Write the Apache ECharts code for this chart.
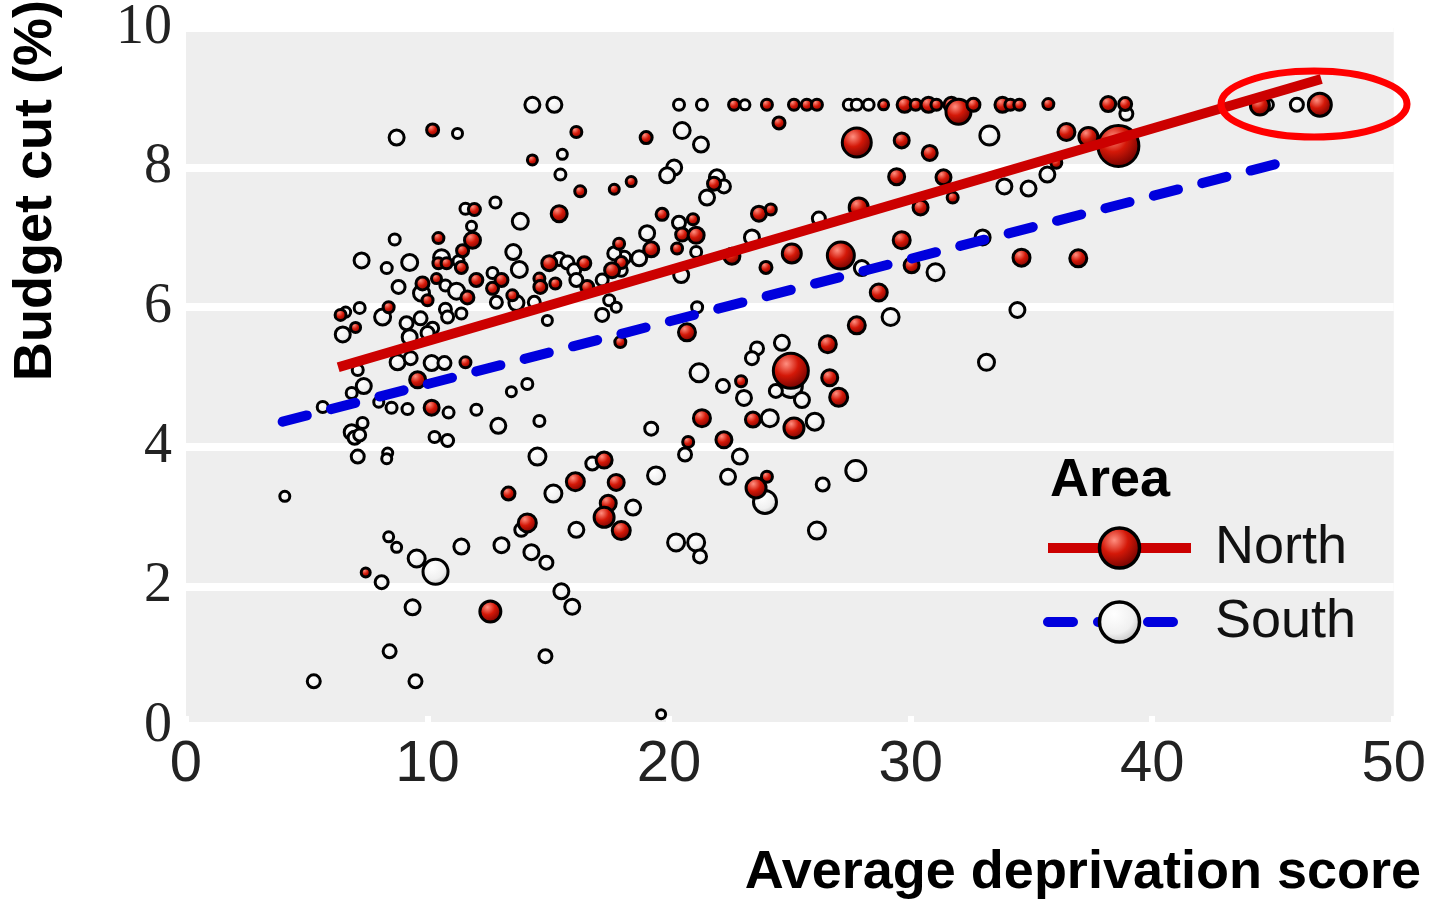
<!DOCTYPE html>
<html>
<head>
<meta charset="utf-8">
<title>Budget cut vs deprivation</title>
<script src="https://cdn.jsdelivr.net/npm/echarts@6/dist/echarts.min.js"></script>
<style>
  html, body { margin: 0; padding: 0; background: #fff; }
  #main { width: 1429px; height: 903px; }
</style>
</head>
<body>
<div id="main"></div>
<script>
// [deprivation score, budget cut %, bubble size]
var northPoints = [
  [22.69,8.90,8],[24.05,8.90,8],[25.17,8.90,8],[25.70,8.90,8],[26.12,8.90,8],[28.88,8.90,7],
  [29.75,8.90,12],[30.21,8.90,8],[30.74,8.90,12],[31.07,8.90,8],[31.69,8.90,12],[31.98,8.80,22],
  [32.60,8.90,10],[33.80,8.90,12],[34.13,8.90,8],[34.50,8.90,8],[35.70,8.91,8],[38.18,8.91,12],
  [38.88,8.91,10],[44.46,8.89,16],[46.94,8.90,20],
  [10.21,8.54,9],[16.16,8.51,8],[14.34,8.11,7],[16.32,7.66,8],[17.73,7.69,7],[18.43,7.80,7],
  [19.05,8.43,9],[24.55,8.64,9],[27.77,8.36,26],[29.63,8.39,12],[30.79,8.21,12],[29.42,7.87,13],
  [31.36,7.86,12],[31.74,7.57,8],[30.41,7.43,12],[27.85,7.43,16],[36.45,8.51,14],[37.36,8.44,16],
  [38.60,8.31,38],[36.03,8.07,8],[34.59,6.71,14],[36.94,6.70,14],[29.63,6.96,14],[30.04,6.60,12],
  [28.68,6.21,14],[27.77,5.74,14],[27.11,6.74,24],[25.08,6.77,16],[24.01,6.57,9],[22.60,6.73,13],
  [23.72,7.34,12],[24.21,7.40,8],[21.86,7.77,10],[19.71,7.33,9],[20.99,7.26,8],[20.54,7.04,10],
  [21.12,7.03,13],[19.26,6.83,12],[17.93,6.91,8],[18.02,6.64,9],[20.33,6.84,8],[20.74,5.64,14],
  [17.98,5.50,8],[26.57,5.47,14],[25.04,5.09,32],[22.98,4.94,8],[26.65,4.99,13],[27.02,4.71,15],
  [21.36,4.41,14],[23.47,4.39,12],[25.17,4.27,17],[20.79,4.07,8],[22.27,4.10,13],[17.31,3.81,13],
  [17.81,3.49,13],[24.05,3.57,8],[23.60,3.41,17],[17.48,3.19,13],[17.31,2.99,17],[18.02,2.80,15],
  [16.12,3.50,15],[13.35,3.33,10],[14.13,2.91,15],[12.60,1.64,18],[7.44,2.20,6],[10.17,4.56,12],
  [9.59,4.96,13],[11.57,5.21,8],[11.94,7.40,9],[11.86,6.96,13],[10.45,6.99,8],[15.45,7.34,13],
  [15.04,6.63,12],[16.49,6.63,10],[14.63,6.41,8],[14.67,6.29,10],[15.29,6.34,8],[16.61,6.29,10],
  [12.02,6.39,10],[13.06,6.39,10],[12.69,6.27,9],[13.51,6.17,8],[10.45,6.63,8],[10.79,6.63,8],
  [11.40,6.57,9],[11.45,6.81,9],[10.37,6.41,7],[9.79,6.34,10],[10.00,6.10,8],[11.65,6.14,10],
  [6.40,5.89,8],[7.02,5.71,7],[8.39,6.00,8],[17.64,6.53,12]
];

var southPoints = [
  [14.34,8.90,12],[15.25,8.90,12],[20.41,8.90,8],[21.36,8.90,8],[23.14,8.90,7],[27.44,8.90,8],
  [27.77,8.90,8],[28.26,8.90,8],[38.93,8.77,10],[44.79,8.90,8],[45.99,8.90,10],
  [8.72,8.43,12],[11.24,8.49,7],[15.58,8.19,7],[15.50,7.90,8],[12.81,7.50,8],[11.57,7.41,8],
  [11.82,7.16,7],[8.64,6.97,8],[13.84,7.23,13],[20.54,8.53,13],[21.32,8.33,12],[20.21,8.00,12],
  [19.92,7.89,12],[21.98,7.86,12],[22.27,7.73,10],[21.57,7.57,12],[20.41,7.21,10],[19.09,7.06,12],
  [18.14,6.71,10],[18.76,6.70,12],[21.12,6.79,8],[20.50,6.46,12],[23.43,7.00,12],[26.20,7.27,10],
  [33.88,7.73,12],[34.88,7.70,12],[35.66,7.90,12],[33.26,8.46,16],[27.98,6.56,12],[31.03,6.50,14],
  [29.17,5.86,14],[32.98,7.00,12],[34.42,5.96,12],[33.14,5.21,13],[21.16,6.00,8],[24.67,5.49,12],
  [23.64,5.41,10],[23.43,5.27,10],[21.24,5.06,15],[22.23,4.87,10],[23.10,4.70,12],[25.04,4.87,20],
  [24.42,4.80,10],[25.50,4.67,12],[24.17,4.41,14],[26.03,4.36,14],[19.26,4.26,10],[20.66,3.89,10],
  [22.93,3.86,12],[19.46,3.59,14],[22.44,3.57,12],[23.97,3.21,20],[26.36,3.46,10],[27.73,3.66,17],
  [18.51,3.13,12],[20.29,2.63,14],[21.12,2.63,14],[21.28,2.43,10],[26.12,2.80,14],[19.67,0.17,6],
  [4.09,3.29,7],[5.29,0.64,10],[9.50,0.64,10],[8.43,1.07,10],[14.88,1.00,10],[9.38,1.70,12],
  [8.10,2.06,10],[10.33,2.21,22],[9.55,2.40,14],[8.39,2.71,7],[8.72,2.56,7],[11.40,2.57,12],
  [13.06,2.59,12],[14.30,2.49,12],[14.92,2.34,10],[15.54,1.93,12],[15.99,1.71,12],[13.88,2.81,10],
  [16.16,2.81,12],[15.21,3.33,14],[16.82,3.76,10],[14.55,3.86,14],[7.11,3.86,10],[8.35,3.91,7],
  [8.31,3.83,7],[6.86,4.21,12],[6.98,4.13,10],[7.19,4.17,9],[7.31,4.34,8],[10.29,4.14,8],
  [10.83,4.09,9],[12.93,4.30,12],[14.63,4.37,8],[5.66,4.57,8],[7.98,4.64,7],[8.51,4.56,8],
  [9.17,4.54,8],[10.87,4.49,8],[12.02,4.53,8],[13.47,4.79,7],[14.13,4.90,8],[7.36,4.87,12],
  [6.86,4.77,8],[7.27,6.67,12],[8.31,6.56,8],[9.26,6.64,13],[10.58,6.71,13],[11.28,6.66,8],
  [10.74,6.31,8],[8.80,6.29,10],[9.75,6.20,13],[11.20,6.23,13],[6.61,5.93,7],[7.19,5.99,8],
  [8.14,5.86,13],[9.13,5.77,10],[9.71,5.84,10],[10.21,5.70,9],[10.74,5.97,9],[10.83,5.86,9],
  [11.40,5.91,8],[6.49,5.61,12],[13.55,6.79,12],[13.80,6.54,13],[15.45,6.69,10],[15.79,6.64,10],
  [16.07,6.53,10],[16.16,6.39,10],[12.69,6.49,8],[12.85,6.07,9],[13.68,6.06,12],[14.42,6.07,9],
  [17.23,6.39,9],[17.52,6.10,8],[17.23,5.89,10],[17.81,6.00,7],[14.96,5.81,7],[18.02,6.53,9],
  [17.73,6.77,10],[9.26,5.57,12],[10.00,5.63,10],[8.76,5.21,12],[9.30,5.27,10],[10.17,5.20,12],
  [10.70,5.20,10],[7.11,5.10,8]
];

// fitted trend lines (start, end)
var northFit = [[6.3, 5.14], [47.0, 9.27]];
var southFit = [[4.0, 4.36], [46.0, 8.13]];

// the circled group at top right
var highlight = [46.7, 8.91];

var redBall = {
  type: 'radial', x: 0.38, y: 0.32, r: 0.7,
  colorStops: [{offset: 0, color: '#ff8f80'}, {offset: 0.45, color: '#d41808'}, {offset: 1, color: '#6a0000'}]
};
var whiteBall = {
  type: 'radial', x: 0.38, y: 0.32, r: 0.75,
  colorStops: [{offset: 0, color: '#ffffff'}, {offset: 0.6, color: '#f0f0f0'}, {offset: 1, color: '#b8b8b8'}]
};

var chartDom = document.getElementById('main');
var myChart = echarts.init(chartDom);
var option;

option = {
  animation: false,
  grid: {
    left: 186, right: 33, top: 26, bottom: 177,
    show: true, backgroundColor: '#eeeeee', borderWidth: 0
  },
  xAxis: {
    type: 'value', min: 0, max: 50, interval: 10,
    axisLine: {show: false},
    axisTick: {show: true, inside: true, length: 10, lineStyle: {color: '#ffffff', width: 6}},
    splitLine: {show: false},
    axisLabel: {
      margin: 10, color: '#222',
      fontFamily: '"Liberation Sans Narrow", "Liberation Sans", sans-serif', fontSize: 58
    }
  },
  yAxis: {
    type: 'value', min: 0, max: 10, interval: 2,
    axisLine: {show: false},
    axisTick: {show: false},
    splitLine: {show: true, lineStyle: {color: '#ffffff', width: 8}},
    axisLabel: {
      margin: 14, color: '#222',
      fontFamily: '"Liberation Serif", serif', fontSize: 56
    }
  },
  legend: {
    orient: 'vertical', left: 1043, top: 521, padding: 0,
    itemWidth: 143, itemHeight: 50, itemGap: 20,
    selectedMode: false,
    lineStyle: {width: 10},
    textStyle: {
      fontFamily: '"Liberation Sans", sans-serif', fontSize: 54, color: '#111',
      lineHeight: 50, padding: [0, 0, 0, 19]
    },
    data: [
      {name: 'North', itemStyle: {color: redBall, borderColor: '#000', borderWidth: 3.5}},
      {name: 'South', itemStyle: {color: whiteBall, borderColor: '#000', borderWidth: 3.5}}
    ]
  },
  graphic: [
    {
      id: 'ytitle', type: 'text', x: 36, y: 381, rotation: Math.PI / 2,
      style: {
        text: 'Budget cut (%)', fill: '#000',
        fontFamily: '"Liberation Sans", sans-serif', fontWeight: 'bold', fontSize: 54,
        align: 'left', verticalAlign: 'middle'
      }
    },
    {
      id: 'xtitle', type: 'text', x: 1421, y: 873,
      style: {
        text: 'Average deprivation score', fill: '#000',
        fontFamily: '"Liberation Sans", sans-serif', fontWeight: 'bold', fontSize: 54,
        align: 'right', verticalAlign: 'middle'
      }
    },
    {
      id: 'legendTitle', type: 'text', x: 1050, y: 481,
      style: {
        text: 'Area', fill: '#000',
        fontFamily: '"Liberation Sans", sans-serif', fontWeight: 'bold', fontSize: 54,
        align: 'left', verticalAlign: 'middle'
      }
    }
  ],
  series: [
    {
      name: 'North', type: 'line', data: northFit,
      showSymbol: false, symbol: 'circle', silent: true, z: 5,
      itemStyle: {color: redBall, borderColor: '#000', borderWidth: 3},
      lineStyle: {color: '#cc0000', width: 10}
    },
    {
      name: 'South', type: 'line', data: southFit,
      showSymbol: false, symbol: 'circle', silent: true, z: 5,
      itemStyle: {color: whiteBall, borderColor: '#000', borderWidth: 3},
      lineStyle: {color: '#0000dd', width: 10, type: [25, 25], cap: 'round'}
    },
    {
      name: 'South', type: 'scatter', data: southPoints, z: 3,
      symbolSize: function (v) { return v[2] + 3; },
      itemStyle: {color: whiteBall, borderColor: '#000', borderWidth: 3, opacity: 1},
      emphasis: {disabled: true}
    },
    {
      name: 'North', type: 'scatter', data: northPoints, z: 4,
      symbolSize: function (v) { return v[2] + 3; },
      itemStyle: {color: redBall, borderColor: '#000', borderWidth: 3, opacity: 1},
      emphasis: {disabled: true}
    }
  ]
};

option && myChart.setOption(option);

// red ring round the highest scoring areas
var c = myChart.convertToPixel({gridIndex: 0}, highlight);
myChart.setOption({
  graphic: [{
    id: 'ring', type: 'ellipse', z: 100,
    shape: {cx: c[0], cy: c[1], rx: 93, ry: 33},
    style: {fill: 'none', stroke: '#ff0000', lineWidth: 7}
  }]
});
</script>
</body>
</html>
